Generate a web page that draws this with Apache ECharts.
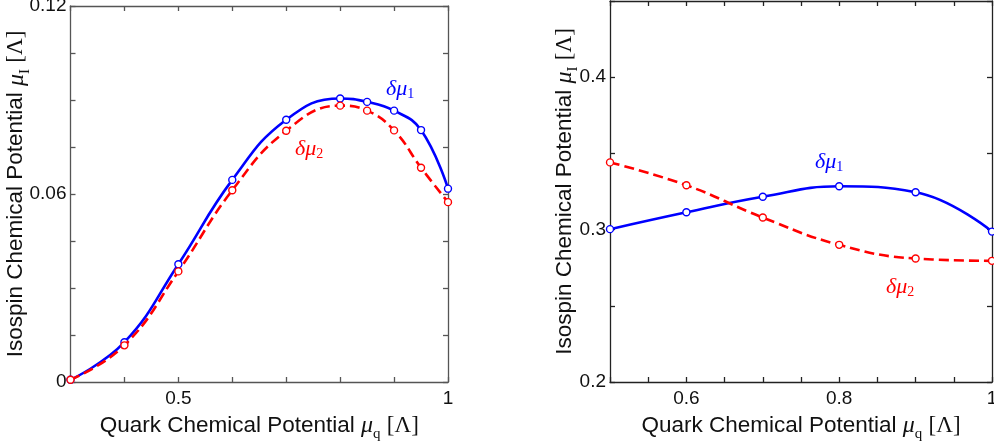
<!DOCTYPE html>
<html lang="en">
<head>
    <meta charset="UTF-8">
    <title>Isospin chemical potential vs quark chemical potential</title>
    <script src="https://cdn.jsdelivr.net/npm/echarts@6/dist/echarts.min.js"></script>
    <style>
        html, body { margin: 0; padding: 0; background: #fff; }
        #chart { width: 994px; height: 447px; }
    </style>
</head>
<body>
    <div id="chart"></div>

    <script type="text/javascript">
        // left panel
        var muqLeft = [0.3, 0.4, 0.5, 0.6, 0.7, 0.8, 0.85, 0.9, 0.95, 1.0];
        var dmu1Left = [0.0007, 0.0127, 0.0376, 0.0645, 0.0837, 0.0905, 0.0894, 0.0866, 0.0804, 0.0617];
        var dmu2Left = [0.0007, 0.0117, 0.0353, 0.0612, 0.0802, 0.0882, 0.0866, 0.0803, 0.0684, 0.0574];
        var xLabelsLeft = [0.5, 1];
        var yLabelsLeft = [0, 0.06, 0.12];

        // right panel
        var muqRight = [0.5, 0.6, 0.7, 0.8, 0.9, 1.0];
        var dmu1Right = [0.3003, 0.3114, 0.3216, 0.3284, 0.3245, 0.2987];
        var dmu2Right = [0.3441, 0.3291, 0.3079, 0.2900, 0.2810, 0.2795];
        var xLabelsRight = [0.6, 0.8, 1];
        var yLabelsRight = [0.2, 0.3, 0.4];

        function pairs(xs, ys) {
            return xs.map(function (x, i) { return [x, ys[i]]; });
        }

        function onlyLabels(list) {
            return function (v) {
                for (var i = 0; i < list.length; i++) {
                    if (Math.abs(v - list[i]) < 1e-6) return String(list[i]);
                }
                return '';
            };
        }

        var sans = 'Liberation Sans, Arial, sans-serif';
        var serif = 'Liberation Serif, Times New Roman, serif';

        var nameRich = {
            s: { fontFamily: sans, fontSize: 22.5, color: '#111', verticalAlign: 'top', lineHeight: 28 },
            m: { fontFamily: serif, fontStyle: 'italic', fontSize: 24, color: '#111', verticalAlign: 'top', lineHeight: 28 },
            sub: { fontFamily: serif, fontSize: 15, color: '#111', verticalAlign: 'bottom', lineHeight: 15 },
            t: { fontFamily: serif, fontSize: 23, color: '#111', verticalAlign: 'top', lineHeight: 28 }
        };
        var xName = '{s|Quark Chemical Potential }{m|μ}{sub|q}{s| }{t|[Λ]}';
        var yName = '{s|Isospin Chemical Potential }{m|μ}{sub|I}{s| }{t|[Λ]}';

        function axisBase(color, min, max, interval) {
            return {
                type: 'value',
                min: min,
                max: max,
                interval: interval,
                splitLine: { show: false },
                axisLine: { show: true, onZero: false, lineStyle: { color: color, width: 1.3 } },
                axisTick: { show: true, inside: true, length: 5, lineStyle: { color: color, width: 1.3 } }
            };
        }

        function mainX(gi, color, min, max, interval, labels, gap) {
            var a = axisBase(color, min, max, interval);
            a.gridIndex = gi;
            a.position = 'bottom';
            a.axisLabel = { show: true, margin: 7, formatter: onlyLabels(labels),
                fontFamily: sans, fontSize: 19, color: '#111' };
            a.name = xName;
            a.nameLocation = 'middle';
            a.nameGap = gap;
            a.nameTextStyle = { rich: nameRich };
            return a;
        }
        function mainY(gi, color, min, max, interval, labels, gap) {
            var a = axisBase(color, min, max, interval);
            a.gridIndex = gi;
            a.position = 'left';
            a.axisLabel = { show: true, margin: 4, formatter: onlyLabels(labels),
                fontFamily: sans, fontSize: 19, color: '#111' };
            a.name = yName;
            a.nameLocation = 'middle';
            a.nameGap = gap;
            a.nameMoveOverlap = false;
            a.nameTextStyle = { rich: nameRich };
            return a;
        }
        function mirror(gi, pos, color, min, max, interval) {
            var a = axisBase(color, min, max, interval);
            a.gridIndex = gi;
            a.position = pos;
            a.axisLabel = { show: false };
            return a;
        }

        function curve(name, xi, yi, data, color, dashed) {
            return {
                name: name,
                type: 'line',
                xAxisIndex: xi,
                yAxisIndex: yi,
                data: data,
                smooth: 0.45,
                symbol: 'circle',
                symbolSize: 7,
                showAllSymbol: true,
                itemStyle: { color: '#fff', borderColor: color, borderWidth: 1.4 },
                lineStyle: { color: color, width: 2.6, type: dashed ? [10, 5] : 'solid' },
                z: dashed ? 3 : 2,
                animation: false
            };
        }

        function label(left, top, sub, color) {
            return {
                type: 'text',
                left: left,
                top: top,
                style: {
                    text: '{d|δμ}{s|' + sub + '}',
                    rich: {
                        d: { fontFamily: serif, fontStyle: 'italic', fontSize: 22, fill: color, verticalAlign: 'top', lineHeight: 23 },
                        s: { fontFamily: serif, fontSize: 14, fill: color, verticalAlign: 'bottom', lineHeight: 14 }
                    }
                }
            };
        }

        var chart = echarts.init(document.getElementById('chart'));
        var leftColor = '#555';
        var rightColor = '#222';

        chart.setOption({
            backgroundColor: '#fff',
            animation: false,
            grid: [
                { left: 70.5, top: 6, width: 377.5, height: 376, containLabel: false, outerBoundsMode: 'none' },
                { left: 610, top: 1, width: 382, height: 381, containLabel: false, outerBoundsMode: 'none' }
            ],
            xAxis: [
                mainX(0, leftColor, 0.3, 1, 0.1, xLabelsLeft, 32),
                mirror(0, 'top', leftColor, 0.3, 1, 0.1),
                mainX(1, rightColor, 0.5, 1, 0.05, xLabelsRight, 32),
                mirror(1, 'top', rightColor, 0.5, 1, 0.05)
            ],
            yAxis: [
                mainY(0, leftColor, 0, 0.12, 0.015, yLabelsLeft, 38),
                mirror(0, 'right', leftColor, 0, 0.12, 0.015),
                mainY(1, rightColor, 0.2, 0.45, 0.05, yLabelsRight, 29),
                mirror(1, 'right', rightColor, 0.2, 0.45, 0.05)
            ],
            series: [
                curve('δμ1', 0, 0, pairs(muqLeft, dmu1Left), '#0000ff', false),
                curve('δμ2', 0, 0, pairs(muqLeft, dmu2Left), '#ff0000', true),
                curve('δμ1', 2, 2, pairs(muqRight, dmu1Right), '#0000ff', false),
                curve('δμ2', 2, 2, pairs(muqRight, dmu2Right), '#ff0000', true)
            ],
            graphic: [
                label(386, 78, '1', '#0000ff'),
                label(295, 138, '2', '#ff0000'),
                label(815, 151, '1', '#0000ff'),
                label(886, 276, '2', '#ff0000')
            ]
        });
    </script>
</body>
</html>
